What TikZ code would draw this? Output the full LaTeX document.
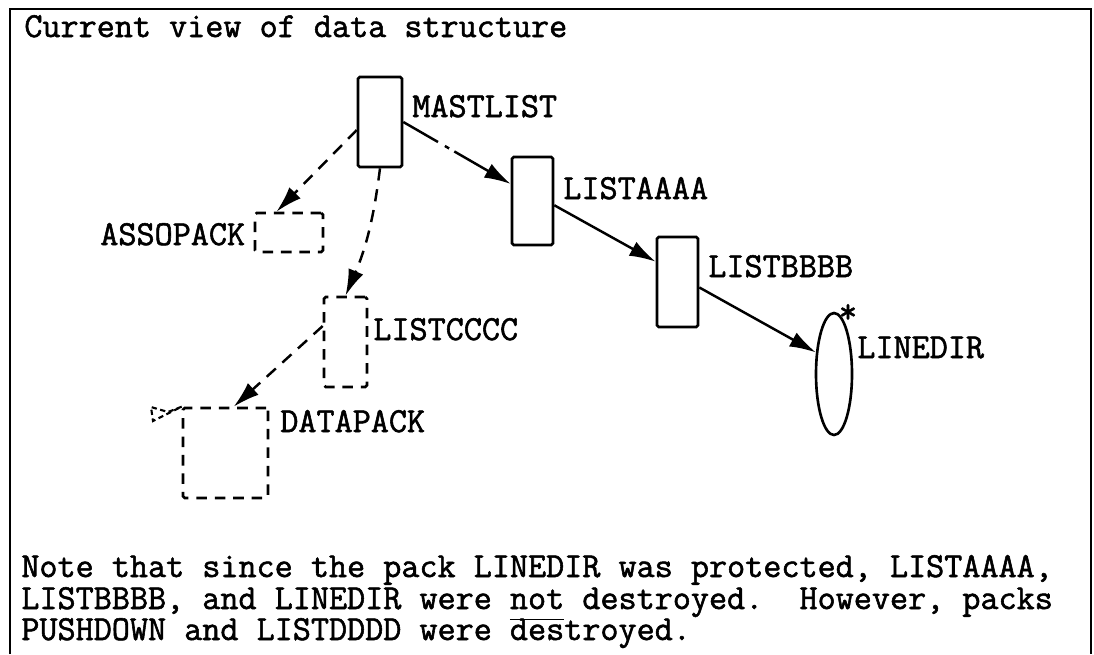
\documentclass[tikz,border=0pt]{standalone}
\usepackage{fontspec}
\newfontfamily\typewr[FakeBold=1.6]{Latin Modern Mono}
\usetikzlibrary{arrows.meta,shapes.geometric}

\begin{document}
\begin{tikzpicture}[x=0.02cm,y=-0.02cm,
  font=\fontsize{20}{20}\selectfont\typewr,
  pack/.style={draw,line width=1.5pt,rectangle,rounded corners=1pt,inner sep=0pt},
  gone/.style={pack,dash pattern=on 6pt off 4.5pt},
  lbl/.style={anchor=base west,inner sep=0pt},
  >={Latex[length=15pt,width=9pt]},
  ptr/.style={->,line width=1.4pt},
  dptr/.style={ptr,dash pattern=on 7pt off 5pt}]
\useasboundingbox (0,0) rectangle (1094,654);
\draw [line width=1.6pt] (10,654) -- (10,9) -- (1091,9) -- (1091,654);

\node (T) at (24,37) [lbl] {Current view of data structure};

% packs still there
\node (ML) at (380,122) [pack, minimum width=0.88cm, minimum height=1.8cm] {};
\node (LA) at (532.5,201) [pack, minimum width=0.82cm, minimum height=1.76cm] {};
\node (LB) at (677.5,282) [pack, minimum width=0.82cm, minimum height=1.8cm] {};
\node (LD) at (834,374) [draw, line width=1.5pt, ellipse, inner sep=0pt, minimum width=0.72cm, minimum height=2.44cm] {};

% destroyed packs
\node (AP) at (289,232.5) [gone, minimum width=1.36cm, minimum height=0.78cm] {};
\node (LC) at (345.5,342) [gone, minimum width=0.86cm, minimum height=1.8cm] {};
\node (DP) at (225.5,453) [gone, minimum width=1.7cm, minimum height=1.8cm] {};

\node (tML) at (412,117) [lbl] {MASTLIST};
\node (tLA) at (563,199) [lbl] {LISTAAAA};
\node (tLB) at (708,277) [lbl] {LISTBBBB};
\node (tLD) at (857,358) [lbl] {LINEDIR};
\node (star) at (848,304) [anchor=north, inner sep=0pt] {*};
\node (tAP) at (100,245) [lbl] {ASSOPACK};
\node (tLC) at (373,340) [lbl] {LISTCCCC};
\node (tDP) at (280,432) [lbl] {DATAPACK};

\draw [ptr, dash pattern=on 22.8pt off 4.5pt on 2.8pt off 3.4pt on 100pt] (ML.east) -- (LA.142);
\draw [ptr] (LA.-11) -- (LB.137);
\draw [ptr] (LB.-14) -- (LD.130);
\draw [dptr] (ML.199) -- (AP.121);
\draw [dptr] (ML.south) to[bend left=8] (LC.north);
\draw [dptr] (LC.145) -- (DP.80);
\draw [line width=1.2pt, dash pattern=on 3pt off 2pt] (DP.north west) -- (168,412) -- (151,407) -- (153,421) -- cycle;

\node (N1) at (21,577) [lbl] {Note that since the pack LINEDIR was protected, LISTAAAA,};
\node (N2) at (21,609) [lbl] {LISTBBBB, and LINEDIR were \underline{\vphantom{p}not} destroyed.\ \ However, packs};
\node (N3) at (21,640) [lbl] {PUSHDOWN and LISTDDDD were destroyed.};
\end{tikzpicture}
\end{document}
